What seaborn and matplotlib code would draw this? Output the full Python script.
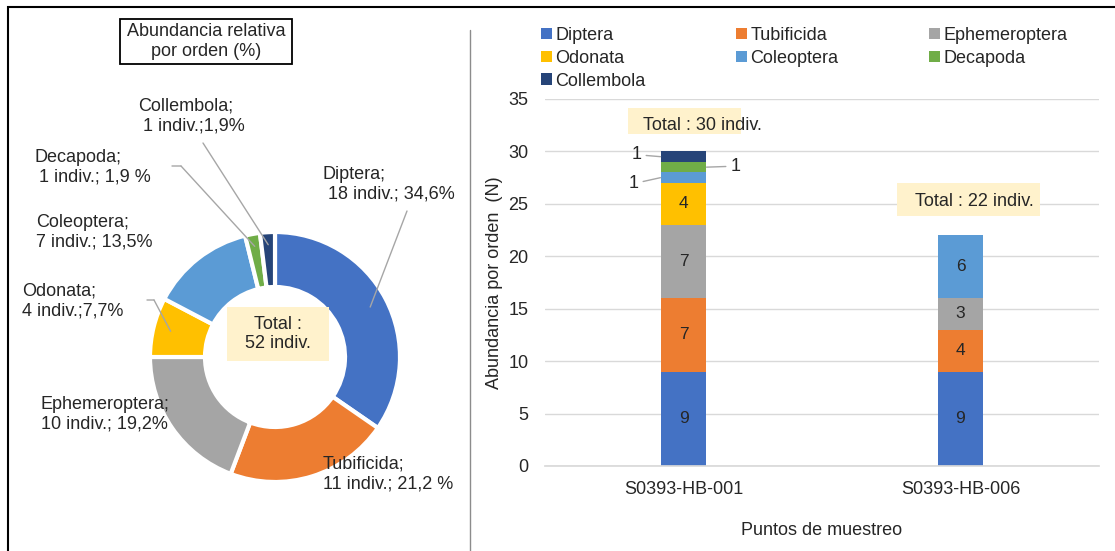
import numpy as np
import pandas as pd
import seaborn as sns
import matplotlib.pyplot as plt
from matplotlib.patches import Rectangle, Patch
from matplotlib.lines import Line2D

# figure size in pixels (dpi 100)
W, H = 1115, 551

def fx(x):
    return x / W

def fy(y):
    return 1 - y / H

# data
ordenes = ["Diptera", "Tubificida", "Ephemeroptera", "Odonata",
           "Coleoptera", "Decapoda", "Collembola"]
colores = ["#4472C4", "#ED7D31", "#A5A5A5", "#FFC000",
           "#5B9BD5", "#70AD47", "#264478"]
puntos = ["S0393-HB-001", "S0393-HB-006"]
n_hb001 = [9, 7, 7, 4, 1, 1, 1]
n_hb006 = [9, 4, 3, 0, 6, 0, 0]
etiquetas_pie = ["Diptera;\n 18 indiv.; 34,6%",
                 "Tubificida;\n11 indiv.; 21,2 %",
                 "Ephemeroptera;\n10 indiv.; 19,2%",
                 "Odonata;\n4 indiv.;7,7%",
                 "Coleoptera;\n7 indiv.; 13,5%",
                 "Decapoda;\n 1 indiv.; 1,9 %",
                 "Collembola;\n 1 indiv.;1,9%"]

df = pd.DataFrame({"punto": np.repeat(puntos, len(ordenes)),
                   "orden": ordenes * len(puntos),
                   "n": n_hb001 + n_hb006})
df["acum"] = df.groupby("punto")["n"].cumsum()
tot_orden = df.groupby("orden", sort=False)["n"].sum().reindex(ordenes)

sns.set_theme(style="white")
plt.rcParams['font.family'] = ['Liberation Sans', 'DejaVu Sans']
FS = 13
TXT = "#262626"
LEADER = "#A6A6A6"
LS = 1.22

fig = plt.figure(figsize=(W / 100, H / 100), dpi=100)

# frame + separator
fig.add_artist(Rectangle((fx(8), fy(600)), 1.2, (600 - 7) / H, transform=fig.transFigure,
                         facecolor="none", edgecolor="black", lw=1.5))
fig.add_artist(Line2D([fx(470), fx(470)], [fy(30), fy(551)], transform=fig.transFigure,
                      color="#8C8C8C", lw=1))

# ---------------- donut ----------------
ax_pie = fig.add_axes([fx(150), fy(482), 250 / W, 250 / H])
wedges, _ = ax_pie.pie(tot_orden.values, colors=colores, startangle=90, counterclock=False,
                       wedgeprops=dict(width=0.44, edgecolor="white", linewidth=3))
ax_pie.set_xlim(-1, 1)
ax_pie.set_ylim(-1, 1)
ax_pie.set_aspect("equal")
for w in wedges:
    w.set_clip_on(False)

# label positions (px, left / vertical middle) and leader starts
pos_lab = {"Diptera": (323, 184), "Tubificida": (323, 474), "Ephemeroptera": (41, 414),
           "Odonata": (22, 301), "Coleoptera": (36, 232), "Decapoda": (34, 167),
           "Collembola": (138, 116)}
lineas = {"Diptera": (407, 211), "Odonata": (154, 300), "Decapoda": (181, 166),
          "Collembola": (203, 143)}
for w, orden, lab in zip(wedges, ordenes, etiquetas_pie):
    x, y = pos_lab[orden]
    fig.text(fx(x), fy(y), lab, ha="left", va="center", fontsize=FS, color=TXT, linespacing=LS)
    if orden in lineas:
        mid = np.deg2rad((w.theta1 + w.theta2) / 2)
        r = 0.86 if orden in ("Diptera", "Odonata") else 0.9
        lx, ly = lineas[orden]
        ax_pie.annotate("", xy=(r * np.cos(mid), r * np.sin(mid)), xycoords="data",
                        xytext=(lx, H - ly), textcoords="figure pixels",
                        arrowprops=dict(arrowstyle="-", color=LEADER, lw=1,
                                        shrinkA=0, shrinkB=0))
# elbows
ax_pie.annotate("", xy=(181, H - 166), xycoords="figure pixels", xytext=(172, H - 166),
                textcoords="figure pixels",
                arrowprops=dict(arrowstyle="-", color=LEADER, lw=1, shrinkA=0, shrinkB=0))
ax_pie.annotate("", xy=(154, H - 300), xycoords="figure pixels", xytext=(147, H - 300),
                textcoords="figure pixels",
                arrowprops=dict(arrowstyle="-", color=LEADER, lw=1, shrinkA=0, shrinkB=0))

fig.add_artist(Rectangle((fx(227), fy(361)), 102 / W, 54 / H, transform=fig.transFigure,
                         facecolor="#FFF2CC", edgecolor="none"))
fig.text(fx(278), fy(334), f"Total :\n{tot_orden.sum()} indiv.", ha="center", va="center",
         fontsize=FS, color=TXT, linespacing=LS)

fig.add_artist(Rectangle((fx(120), fy(64)), 172 / W, 45 / H, transform=fig.transFigure,
                         facecolor="white", edgecolor="black", lw=1.3))
fig.text(fx(206), fy(41.5), "Abundancia relativa\npor orden (%)", ha="center", va="center",
         fontsize=FS, color=TXT, linespacing=LS)

# ---------------- stacked bars ----------------
ax = fig.add_axes([fx(545), fy(466), 554 / W, (466 - 99) / H])
ancho = 0.166
for orden, color in reversed(list(zip(ordenes, colores))):
    sub = df[df["orden"] == orden]
    sns.barplot(data=sub, x="punto", y="acum", order=puntos, color=color, width=ancho,
                saturation=1, errorbar=None, linewidth=0, ax=ax, zorder=2)

ax.set_xlim(-0.5, 1.5)
ax.set_ylim(0, 35)
ax.set_yticks(range(0, 36, 5))
ax.yaxis.grid(True, color="#D9D9D9", lw=1)
ax.set_axisbelow(True)
for s in ["top", "right", "left"]:
    ax.spines[s].set_visible(False)
ax.spines["bottom"].set_color("#D9D9D9")
ax.tick_params(axis="both", length=0, labelsize=FS, colors=TXT)
ax.tick_params(axis="y", pad=12)
ax.tick_params(axis="x", pad=11)
ax.set_ylabel("Abundancia por orden  (N)", fontsize=FS, color=TXT, labelpad=4)
ax.set_xlabel("Puntos de muestreo", fontsize=FS, color=TXT, labelpad=17)

lados = {"Coleoptera": (-1, -22, -6), "Decapoda": (1, 24, 1), "Collembola": (-1, -19, 2)}
for i, p in enumerate(puntos):
    sub = df[df["punto"] == p]
    for _, row in sub.iterrows():
        if row["n"] == 0:
            continue
        yc = row["acum"] - row["n"] / 2
        if row["n"] >= 3:
            ax.text(i, yc, str(row["n"]), ha="center", va="center", fontsize=12.5, color=TXT)
        else:
            lado, dx, dy = lados[row["orden"]]
            ax.annotate(str(row["n"]), xy=(i + lado * ancho / 2, yc), xytext=(dx, dy),
                        textcoords="offset pixels", ha="left" if lado > 0 else "right",
                        va="center", fontsize=FS, color=TXT,
                        arrowprops=dict(arrowstyle="-", color=LEADER, lw=1,
                                        shrinkA=1, shrinkB=0))

# totals
cajas = [(628, 108, 113, 26, 643, 125), (897, 183, 143, 33, 915, 201)]
for p, (bx, by, bw, bh, tx, ty) in zip(puntos, cajas):
    fig.add_artist(Rectangle((fx(bx), fy(by + bh)), bw / W, bh / H, transform=fig.transFigure,
                             facecolor="#FFF2CC", edgecolor="none"))
    fig.text(fx(tx), fy(ty), f"Total : {df.loc[df['punto'] == p, 'n'].sum()} indiv.",
             ha="left", va="center", fontsize=FS, color=TXT)

# legend filled row by row (3 columns)
ncol = 3
idx = [i for c in range(ncol) for i in range(c, len(ordenes), ncol)]
handles = [Patch(facecolor=colores[i], edgecolor="none") for i in idx]
fig.legend(handles, [ordenes[i] for i in idx], ncol=ncol, loc="upper left",
           bbox_to_anchor=(fx(541), fy(27)), frameon=False, fontsize=FS,
           handlelength=0.6, handleheight=0.6, handletextpad=0.2, columnspacing=5.0,
           labelspacing=0.32, borderpad=0, borderaxespad=0, labelcolor=TXT)

fig.savefig("out.png", dpi=100)
